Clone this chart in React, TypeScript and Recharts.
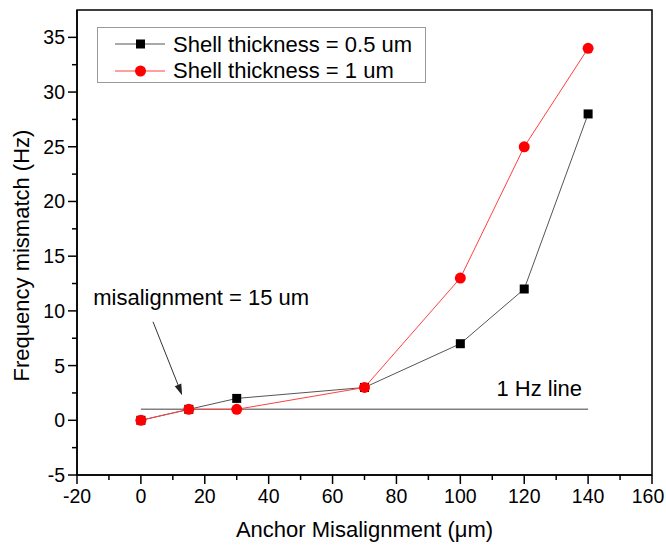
import React from 'react';
import {
  LineChart,
  Line,
  XAxis,
  YAxis,
  ReferenceLine,
  ReferenceDot,
  ReferenceArea,
  Legend,
} from 'recharts';

const misalignment = [0, 15, 30, 70, 100, 120, 140];
const shell05 = [0, 1, 2, 3, 7, 12, 28];
const shell1 = [0, 1, 1, 3, 13, 25, 34];

const xTicks = [-20, -10, 0, 10, 20, 30, 40, 50, 60, 70, 80, 90, 100, 110, 120, 130, 140, 150, 160];
const xLabelTicks = [-20, 0, 20, 40, 60, 80, 100, 120, 140, 160];
const yTicks = [-5, -2.5, 0, 2.5, 5, 7.5, 10, 12.5, 15, 17.5, 20, 22.5, 25, 27.5, 30, 32.5, 35];
const yLabelTicks = [-5, 0, 5, 10, 15, 20, 25, 30, 35];

const seriesNames = ['Shell thickness = 0.5 um', 'Shell thickness = 1 um'];
const xTitle = 'Anchor Misalignment (\u03bcm)';
const yTitle = 'Frequency mismatch (Hz)';
const hzLine = [{ x: 0, y: 1 }, { x: 140, y: 1 }];
const hzLabel = { x: 111.3, y: 2.94, text: '1 Hz line' };
const arrow = [{ x: 3.8, y: 9.0 }, { x: 12.9, y: 2.3 }];
const arrowLabel = { x: -14.9, y: 11.24, text: 'misalignment = 15 um' };

const data05 = misalignment.map((x, i) => ({ x, y: shell05[i] }));
const data1 = misalignment.map((x, i) => ({ x, y: shell1[i] }));

const FONT = '"Liberation Sans", Arial, sans-serif';

const XTick = (props: any) => {
  const { x, y, payload } = props;
  const major = xLabelTicks.includes(payload.value);
  const isLast = payload.value === xLabelTicks[xLabelTicks.length - 1];
  return (
    <g>
      <line x1={x} y1={y} x2={x} y2={y + (major ? 9 : 5)} stroke="#000" strokeWidth={1.5} />
      {major && (
        <text x={isLast ? x - 4 : x} y={y + 28} textAnchor="middle" fontSize={19.5} fontFamily={FONT} fill="#000">
          {payload.value}
        </text>
      )}
    </g>
  );
};

const YTick = (props: any) => {
  const { x, y, payload } = props;
  const major = yLabelTicks.includes(payload.value);
  return (
    <g>
      <line x1={x} y1={y} x2={x - (major ? 9 : 5)} y2={y} stroke="#000" strokeWidth={1.5} />
      {major && (
        <text x={x - 12} y={y + 7} textAnchor="end" fontSize={19.5} fontFamily={FONT} fill="#000">
          {payload.value}
        </text>
      )}
    </g>
  );
};

const SquareDot = (props: any) => {
  const { cx, cy } = props;
  if (cx == null || cy == null) return null;
  return <rect x={cx - 4.5} y={cy - 4.5} width={9} height={9} fill="#000" />;
};

const CircleDot = (props: any) => {
  const { cx, cy } = props;
  if (cx == null || cy == null) return null;
  return <circle cx={cx} cy={cy} r={5.5} fill="#ff0000" />;
};

const ArrowShape = (props: any) => {
  const { x1, y1, x2, y2 } = props;
  const ang = Math.atan2(y2 - y1, x2 - x1);
  const L = 11;
  const W = 3.5;
  const bx = x2 - L * Math.cos(ang);
  const by = y2 - L * Math.sin(ang);
  const px = -Math.sin(ang) * W;
  const py = Math.cos(ang) * W;
  return (
    <g>
      <line x1={x1} y1={y1} x2={bx} y2={by} stroke="#333" strokeWidth={1} />
      <polygon points={`${x2},${y2} ${bx + px},${by + py} ${bx - px},${by - py}`} fill="#222" />
    </g>
  );
};

const YTitle = (props: any) => {
  const vb = props.viewBox || { x: 0, y: 0, width: 0, height: 0 };
  const cx = vb.x + 21;
  const cy = vb.y + vb.height / 2 + 13;
  return (
    <text
      x={cx}
      y={cy}
      transform={`rotate(-90 ${cx} ${cy})`}
      textAnchor="middle"
      dominantBaseline="central"
      fontSize={22}
      fontFamily={FONT}
      fill="#000"
    >
      {yTitle}
    </text>
  );
};

const LegendBox = () => (
  <div
    style={{
      width: 327,
      height: 54,
      border: '1px solid #9a9a9a',
      background: '#fff',
      boxSizing: 'content-box',
    }}
  >
    <svg width={327} height={54} style={{ display: 'block', overflow: 'visible' }}>
      <line x1={17} y1={16} x2={67} y2={16} stroke="#555" strokeWidth={1} />
      <rect x={38} y={11.5} width={9} height={9} fill="#000" />
      <text x={75} y={24} fontSize={22} fontFamily={FONT} fill="#000">{seriesNames[0]}</text>
      <line x1={17} y1={43} x2={67} y2={43} stroke="#ff4040" strokeWidth={1} />
      <circle cx={42.5} cy={43} r={5.5} fill="#ff0000" />
      <text x={75} y={50} fontSize={22} fontFamily={FONT} fill="#000">{seriesNames[1]}</text>
    </svg>
  </div>
);

export default function App() {
  return (
    <div style={{ position: 'absolute', left: 0, top: 0, width: 666, height: 549, background: '#fff' }}>
      <LineChart width={666} height={549} margin={{ top: 10, right: 14, left: 0, bottom: 0 }}>
        <XAxis
          dataKey="x"
          type="number"
          domain={[-20, 160]}
          ticks={xTicks}
          interval={0}
          allowDataOverflow
          tick={<XTick />}
          tickLine={false}
          tickSize={0}
          tickMargin={0}
          height={74}
          axisLine={{ stroke: '#000', strokeWidth: 1.5 }}
          label={{ value: xTitle, position: 'insideBottom', offset: 12, fontSize: 22, fontFamily: FONT, fill: '#000' }}
        />
        <YAxis
          dataKey="y"
          type="number"
          domain={[-5, 37.5]}
          ticks={yTicks}
          interval={0}
          allowDataOverflow
          tick={<YTick />}
          tickLine={false}
          tickSize={0}
          tickMargin={0}
          width={77}
          axisLine={{ stroke: '#000', strokeWidth: 1.5 }}
          label={{ content: (p: any) => <YTitle {...p} /> }}
        />
        <ReferenceArea x1={-20} x2={160} y1={-5} y2={37.5} fill="none" stroke="#000" strokeWidth={1.5} />
        <ReferenceLine segment={hzLine} stroke="#808080" strokeWidth={1.5} />
        <ReferenceLine segment={arrow} shape={ArrowShape} />
        <ReferenceDot
          x={arrowLabel.x}
          y={arrowLabel.y}
          shape={(p: any) => (
            <text x={p.cx} y={p.cy + 8} fontSize={22} fontFamily={FONT} fill="#000">{arrowLabel.text}</text>
          )}
        />
        <ReferenceDot
          x={hzLabel.x}
          y={hzLabel.y}
          shape={(p: any) => (
            <text x={p.cx} y={p.cy + 8} fontSize={22} fontFamily={FONT} fill="#000">{hzLabel.text}</text>
          )}
        />
        <Line
          data={data05}
          dataKey="y"
          name={seriesNames[0]}
          stroke="#555"
          strokeWidth={1}
          dot={<SquareDot />}
          activeDot={false}
          isAnimationActive={false}
        />
        <Line
          data={data1}
          dataKey="y"
          name={seriesNames[1]}
          stroke="#ff4040"
          strokeWidth={1}
          dot={<CircleDot />}
          activeDot={false}
          isAnimationActive={false}
        />
        <Legend
          layout="horizontal"
          verticalAlign="middle"
          align="center"
          content={() => <LegendBox />}
          wrapperStyle={{ left: 97, top: 27, width: 329, height: 56 }}
        />
      </LineChart>
    </div>
  );
}
